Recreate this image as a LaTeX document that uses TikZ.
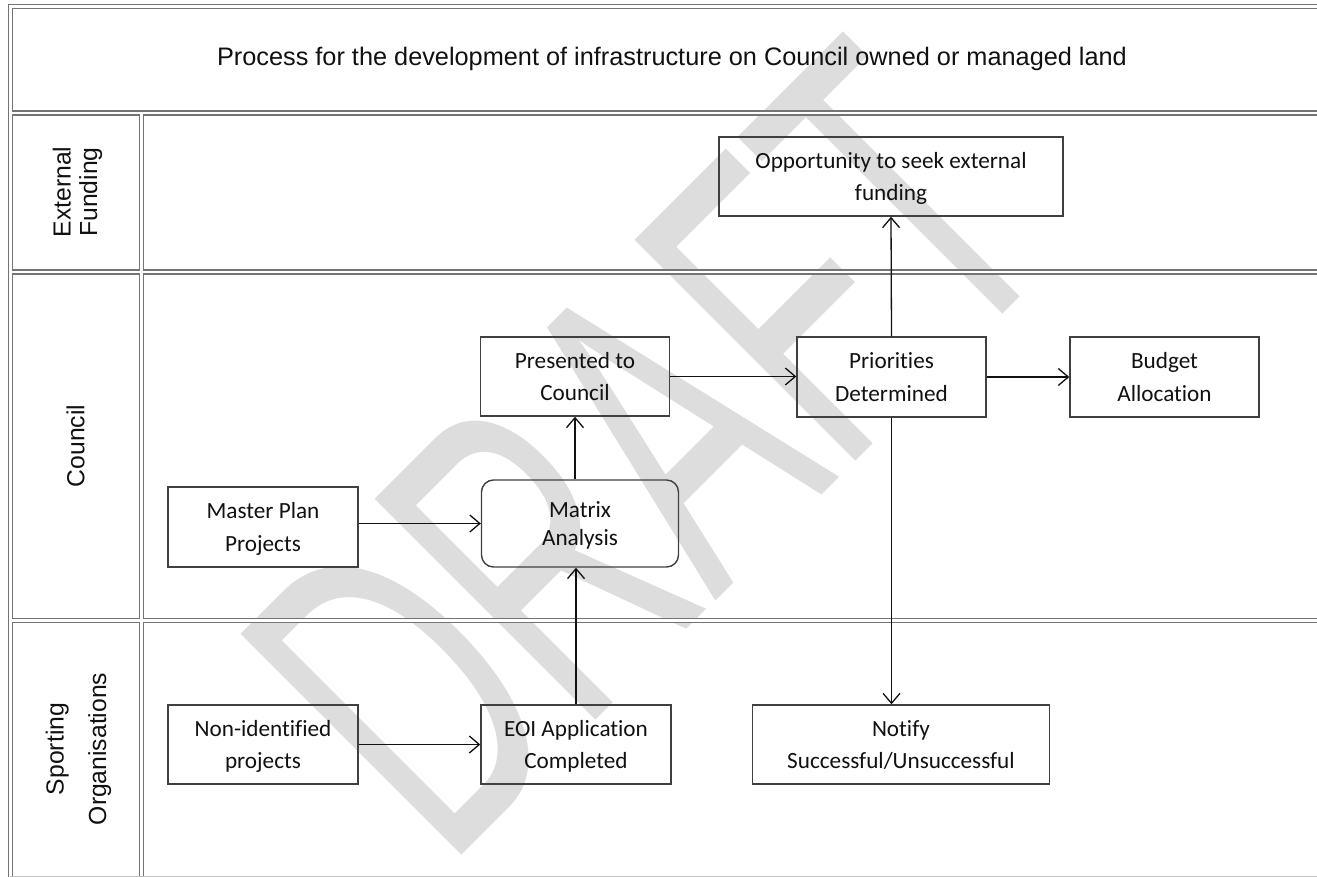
\documentclass[tikz,border=0pt]{standalone}
\usepackage{fontspec}
\usepackage{graphicx}
\setmainfont{Carlito}[RawFeature={-liga}]
\newfontfamily\arialfont{Liberation Sans}
\usetikzlibrary{arrows.meta}
\definecolor{ink}{HTML}{111111}
\definecolor{rule}{HTML}{747474}
\definecolor{boxline}{HTML}{404040}
\definecolor{mark}{HTML}{DDDDDD}

\begin{document}
\begin{tikzpicture}[x=1pt,y=-1pt,
  procbox/.style={draw=boxline,line width=1.4pt,minimum width=#1,minimum height=79pt,inner sep=0pt,
    align=center,text=ink,text depth=0pt,font=\fontsize{23.2}{32.5}\selectfont},
  lanelabel/.style={rotate=90,align=center,inner sep=0pt,text=ink,font=\arialfont\fontsize{24.7}{26.7}\selectfont},
  flow/.style={-{Straight Barb[length=10pt,width=17pt]},line width=1.3pt,draw=ink}]
\useasboundingbox (0,0) rectangle (1317,877);
\clip (0,0) rectangle (1317,877);

\node[rotate=45,text=mark,inner sep=0pt] (draft) at (647,449)
  {\scalebox{0.582}[1]{\arialfont\fontsize{454}{454}\selectfont DRAFT}};

\draw[rule,line width=1.3pt,double=white,double distance=2.7pt]
  (1330,6.5) -- (10.3,6.5) -- (10.3,890)
  (10.3,113) -- (1330,113) (10.3,272) -- (1330,272) (10.3,620.8) -- (1330,620.8)
  (141.2,113) -- (141.2,890);
\draw[rule!45,line width=1pt] (10.3,876.5) -- (1317,876.5);

\node[text=ink,font=\arialfont\fontsize{25.3}{30}\selectfont] (title) at (672,59)
  {Process for the development of infrastructure on Council owned or managed land};
\node[lanelabel] (extlane) at (77.5,192) {External\\Funding};
\node[lanelabel] (coulane) at (75.5,446) {Council};
\node[lanelabel] (sportlane) at (78.5,749) {Sporting\\[15.8pt]Organisations};

\node[procbox=344pt] (opp) at (891,176.5) {Opportunity to seek external\\funding};
\node[procbox=189pt] (pres) at (575,376.5) {Presented to\\Council};
\node[procbox=189pt,minimum height=80pt] (prio) at (891.5,377) {Priorities\\Determined};
\node[procbox=189pt,minimum height=80pt] (budget) at (1164.5,377) {Budget\\Allocation};
\node[procbox=197pt,minimum height=87pt,rounded corners=12pt,font=\fontsize{23.2}{28}\selectfont] (matrix) at (580,523.5) {Matrix\\Analysis};
\node[procbox=190pt,minimum height=80pt] (master) at (263,527) {Master Plan\\Projects};
\node[procbox=190pt] (nonid) at (263,744.5) {Non-identified\\projects};
\node[procbox=190pt] (eoi) at (576,744.5) {EOI Application\\Completed};
\node[procbox=297pt] (notify) at (901,744.5) {Notify\\Successful/Unsuccessful};

\draw[flow] (master.east |- matrix.west) -- (matrix.west);
\draw[flow] (nonid.east) -- (nonid.east -| eoi.west);
\draw[flow] (eoi.north) -- (eoi.north |- matrix.south);
\draw[flow] (pres.south |- matrix.north) -- (pres.south);
\draw[flow] (pres.east) -- (pres.east -| prio.west);
\draw[flow] (prio.east) -- (budget.west);
\draw[flow] (prio.north) -- (opp.south);
\draw[flow] (prio.south) -- (prio.south |- notify.north);
\end{tikzpicture}
\end{document}
